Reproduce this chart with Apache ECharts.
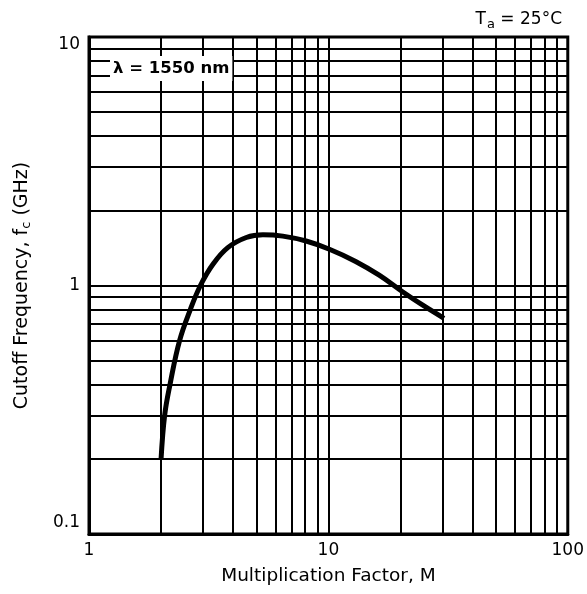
<!DOCTYPE html>
<html>
<head>
<meta charset="utf-8">
<script src="https://cdn.jsdelivr.net/npm/echarts@6/dist/echarts.min.js"></script>
<style>
html,body{margin:0;padding:0;background:#fff;}
#chart{width:587px;height:594px;}
</style>
</head>
<body>
<div id="chart"></div>
<script>
// Data (log-log)
const multFactor = [2.0, 2.07, 2.18, 2.39, 2.65, 2.92, 3.30, 3.80, 4.54, 5.33, 6.45, 8.07, 10.1, 13.0, 16.3, 20.4, 24.7, 30.4];
const cutoffGHz  = [0.20, 0.30, 0.40, 0.60, 0.80, 1.00, 1.22, 1.42, 1.56, 1.60, 1.58, 1.51, 1.40, 1.25, 1.10, 0.944, 0.835, 0.738];
const xGridMinor = [2, 3, 4, 5, 6, 7, 8, 9, 20, 30, 40, 50, 60, 70, 80, 90];
const yGridMinor = [0.2, 0.3, 0.4, 0.5, 0.6, 0.7, 0.8, 0.9, 2, 3, 4, 5, 6, 7, 8, 9];
const xTickLabels = [1, 10, 100];
const yTickLabels = [0.1, 1, 10];

const FONT = 'DejaVu Sans';
const chart = echarts.init(document.getElementById('chart'));

const gridLineData = xGridMinor.map(v => ({xAxis: v})).concat(yGridMinor.map(v => ({yAxis: v})));

chart.setOption({
  animation: false,
  backgroundColor: '#fff',
  textStyle: {fontFamily: FONT, color: '#000'},
  title: {
    text: '{t|T}{s|a}{t| = 25°C}',
    right: 20,
    top: 4,
    textStyle: {
      fontWeight: 'normal',
      rich: {
        t: {fontFamily: FONT, fontSize: 17, fontWeight: 'normal', color: '#000', lineHeight: 22},
        s: {fontFamily: FONT, fontSize: 13, fontWeight: 'normal', color: '#000', padding: [10, 0, 0, 1], lineHeight: 22}
      }
    }
  },
  grid: {
    left: 89, right: 17, top: 37, bottom: 60,
    show: true, borderColor: '#000', borderWidth: 3, backgroundColor: 'transparent'
  },
  xAxis: {
    type: 'log', logBase: 10, min: 1, max: 100,
    name: 'Multiplication Factor, M',
    nameLocation: 'middle', nameGap: 33,
    nameTextStyle: {fontFamily: FONT, fontSize: 18.5, color: '#000'},
    axisLine: {show: true, lineStyle: {color: '#000', width: 3}},
    axisTick: {show: false},
    axisLabel: {
      fontFamily: FONT, fontSize: 17, color: '#000', margin: 8,
      formatter: v => xTickLabels.includes(Math.round(v * 1000) / 1000) ? String(Math.round(v * 1000) / 1000) : ''
    },
    splitLine: {show: true, lineStyle: {color: '#000', width: 2}},
    minorTick: {show: false}, minorSplitLine: {show: false}
  },
  yAxis: {
    type: 'log', logBase: 10, min: 0.1, max: 10,
    name: 'Cutoff Frequency, f{s|c} (GHz)',
    nameLocation: 'middle', nameGap: 56,
    nameTextStyle: {
      fontFamily: FONT, fontSize: 19, color: '#000',
      rich: {s: {fontFamily: FONT, fontSize: 13, color: '#000', padding: [9, 0, 0, 0]}}
    },
    axisLine: {show: true, lineStyle: {color: '#000', width: 3}},
    axisTick: {show: false},
    axisLabel: {
      fontFamily: FONT, fontSize: 17, color: '#000', margin: 9,
      formatter: v => {
        const r = Math.round(v * 1000) / 1000;
        if (!yTickLabels.includes(r)) return '';
        if (r === 10) return '{a|10}';
        if (r === 0.1) return '{b|0.1}';
        return String(r);
      },
      rich: {
        a: {fontFamily: FONT, fontSize: 17, color: '#000', padding: [16, 0, 0, 0]},
        b: {fontFamily: FONT, fontSize: 17, color: '#000', padding: [0, 0, 22, 0]}
      }
    },
    splitLine: {show: true, lineStyle: {color: '#000', width: 2}},
    minorTick: {show: false}, minorSplitLine: {show: false}
  },
  graphic: [{
    type: 'text',
    z: 100,
    left: 110,
    top: 56,
    style: {
      text: 'λ = 1550 nm',
      fontFamily: FONT, fontSize: 16.5, fontWeight: 'bold', fill: '#000',
      backgroundColor: '#fff', padding: [4, 3, 4, 3]
    }
  }],
  series: [
    {
      type: 'line', z: 1, data: [], silent: true,
      markLine: {
        silent: true, symbol: 'none', animation: false,
        label: {show: false},
        lineStyle: {color: '#000', width: 2, type: 'solid'},
        data: gridLineData
      }
    },
    {
      type: 'line', z: 5,
      data: multFactor.map((x, i) => [x, cutoffGHz[i]]),
      smooth: 0.4, showSymbol: false, symbol: 'none',
      lineStyle: {color: '#000', width: 5}
    }
  ]
});
</script>
</body>
</html>
